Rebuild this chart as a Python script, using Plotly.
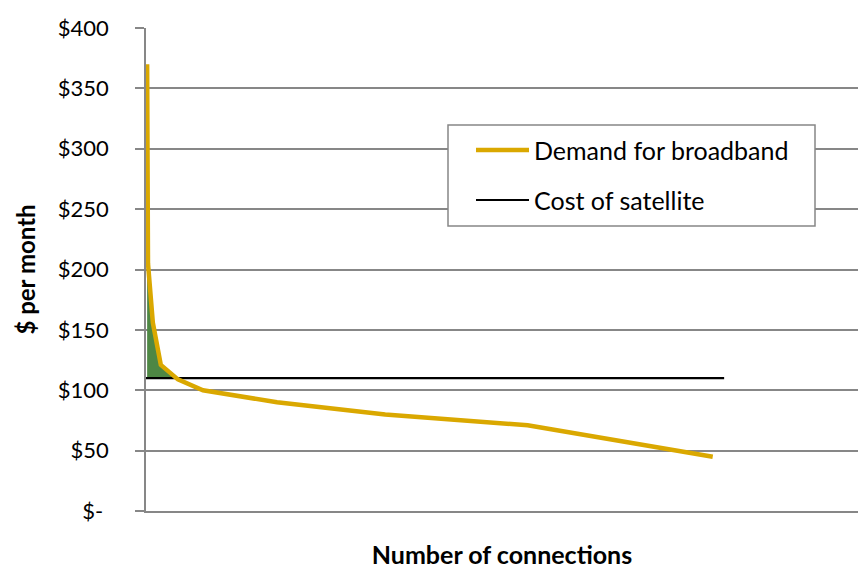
import plotly.graph_objects as go

# Demand curve: price people will pay vs. number of connections
connections = [2, 3.5, 12, 26, 56, 100, 230, 420, 670, 995]
demand_price = [370, 205, 156, 121, 109, 100, 90, 80, 71, 45]

# Flat monthly cost of a satellite connection
satellite_x = [0, 1015]
satellite_cost = [110, 110]

y_tick_values = [0, 50, 100, 150, 200, 250, 300, 350, 400]
y_tick_labels = ["$-\u00a0", "$50", "$100", "$150", "$200",
                 "$250", "$300", "$350", "$400"]

GOLD = "#DAA800"
GREEN = "#4E8744"
GRID = "#878787"
FONT = "Lato"

W, H = 858, 569
M_L, M_R, M_T, M_B = 146, 0, 28, 58


def paper_x(px):
    return (px - M_L) / (W - M_L - M_R)


def paper_y(py):
    return (H - M_B - py) / (H - M_T - M_B)


# Region where demand exceeds the satellite cost (consumer surplus)
cost = satellite_cost[0]
surplus_x, surplus_y = [], []
for i, (cx, p) in enumerate(zip(connections, demand_price)):
    if p >= cost:
        surplus_x.append(cx)
        surplus_y.append(p)
    else:
        x0, p0 = connections[i - 1], demand_price[i - 1]
        surplus_x.append(x0 + (p0 - cost) / (p0 - p) * (cx - x0))
        surplus_y.append(cost)
        break

fig = go.Figure()
fig.add_trace(go.Scatter(x=surplus_x, y=[cost] * len(surplus_x), mode="lines",
                         line=dict(width=0), showlegend=False, hoverinfo="skip"))
fig.add_trace(go.Scatter(x=surplus_x, y=surplus_y, mode="lines", fill="tonexty",
                         fillcolor=GREEN, line=dict(width=0), showlegend=False,
                         hoverinfo="skip"))
fig.add_trace(go.Scatter(x=satellite_x, y=satellite_cost, mode="lines",
                         name="Cost of satellite",
                         line=dict(color="black", width=2.2), showlegend=False))
fig.add_trace(go.Scatter(x=connections, y=demand_price, mode="lines",
                         name="Demand for broadband",
                         line=dict(color=GOLD, width=4.5), showlegend=False))

# Legend box
fig.add_shape(type="rect", xref="paper", yref="paper",
              x0=paper_x(448), x1=paper_x(815), y0=paper_y(226), y1=paper_y(125),
              line=dict(color=GRID, width=1.5), fillcolor="white")
fig.add_shape(type="line", xref="paper", yref="paper",
              x0=paper_x(476), x1=paper_x(529), y0=paper_y(150), y1=paper_y(150),
              line=dict(color=GOLD, width=4.5))
fig.add_shape(type="line", xref="paper", yref="paper",
              x0=paper_x(476), x1=paper_x(529), y0=paper_y(200), y1=paper_y(200),
              line=dict(color="black", width=2.2))
for label, py in [("Demand for broadband", 150), ("Cost of satellite", 200)]:
    fig.add_annotation(text=label, xref="paper", yref="paper",
                       x=paper_x(532), y=paper_y(py), xanchor="left", yanchor="middle",
                       showarrow=False, font=dict(family=FONT, size=25, color="black"))

fig.update_xaxes(range=[0, 1250], showticklabels=False, showgrid=False,
                 zeroline=False, showline=True, linecolor=GRID, linewidth=1.5,
                 ticks="", layer="below traces",
                 title=dict(text="<b>Number of connections</b>", standoff=35,
                            font=dict(family=FONT, size=25, color="black")))
fig.update_yaxes(range=[0, 400], tickmode="array", tickvals=y_tick_values,
                 ticktext=y_tick_labels, showgrid=True, gridcolor=GRID,
                 gridwidth=1.5, zeroline=False, showline=True, linecolor=GRID,
                 linewidth=1.5, ticks="outside", ticklen=9, tickcolor=GRID,
                 tickwidth=1.5, ticklabelstandoff=22, layer="below traces",
                 tickfont=dict(family=FONT, size=22, color="black"),
                 title=dict(text="<b>$ per month</b>", standoff=15,
                            font=dict(family=FONT, size=24, color="black")))

fig.update_layout(width=W, height=H, margin=dict(l=M_L, r=M_R, t=M_T, b=M_B),
                  plot_bgcolor="white", paper_bgcolor="white", showlegend=False)

fig.write_html("out.html")
